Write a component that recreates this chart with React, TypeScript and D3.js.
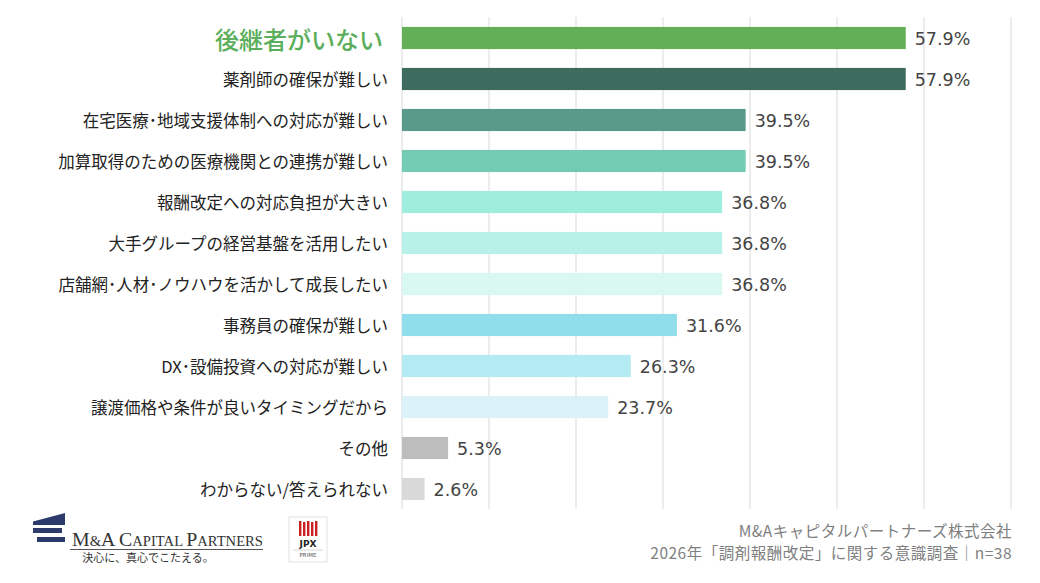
import * as d3 from 'd3';

// survey answers, top to bottom
const categories = [
  '後継者がいない',
  '薬剤師の確保が難しい',
  '在宅医療･地域支援体制への対応が難しい',
  '加算取得のための医療機関との連携が難しい',
  '報酬改定への対応負担が大きい',
  '大手グループの経営基盤を活用したい',
  '店舗網･人材･ノウハウを活かして成長したい',
  '事務員の確保が難しい',
  'DX･設備投資への対応が難しい',
  '譲渡価格や条件が良いタイミングだから',
  'その他',
  'わからない/答えられない',
];
const values = [57.9, 57.9, 39.5, 39.5, 36.8, 36.8, 36.8, 31.6, 26.3, 23.7, 5.3, 2.6];
const barColors = [
  '#63AF56', '#3D6B5D', '#589B8B', '#73CBB4', '#9FEDDD', '#B7F1E7',
  '#DAF8F2', '#90DDEB', '#B4EAF2', '#DBF3F8', '#BDBDBD', '#D9D9D9',
];
const gridTicks = [0, 10, 20, 30, 40, 50, 60, 70];

const WIDTH = 1040;
const HEIGHT = 583;
const JP = '"Noto Sans CJK JP", "Noto Sans", sans-serif';

const x = d3.scaleLinear().domain([0, 70]).range([402, 1011]);
const y = d3
  .scaleBand<string>()
  .domain(categories)
  .range([17.5, 509.5])
  .paddingInner(0.46)
  .paddingOuter(0.23);

const Logo = () => (
  <g>
    {/* roof mark */}
    <polygon points="33,525 33,521.5 65,513 65,525" fill="#2D3B6C" />
    <rect x={33} y={528} width={29} height={5} fill="#2D3B6C" />
    <rect x={37} y={537} width={28} height={5} fill="#2D3B6C" />
    <text
      x={72}
      y={546}
      fontFamily='"Liberation Serif", serif'
      fontSize={14}
      fill="#333"
      textLength={191}
      lengthAdjust="spacingAndGlyphs"
    >
      <tspan fontSize={19}>M</tspan>&amp;<tspan fontSize={19}>A</tspan> <tspan fontSize={19}>C</tspan>APITAL{' '}
      <tspan fontSize={19}>P</tspan>ARTNERS
    </text>
    <line x1={70} x2={263} y1={549.5} y2={549.5} stroke="#555" strokeWidth={1} />
    <text x={148} y={562} textAnchor="middle" fontFamily={JP} fontSize={11} fill="#333">
      決心に、真心でこたえる。
    </text>
    {/* listing badge */}
    <rect x={289} y={517} width={38} height={45} fill="#fff" stroke="#e2e2e2" />
    {[0, 1, 2, 3, 4].map((i) => (
      <rect key={i} x={299 + i * 4} y={521 + (i % 2)} width={2.4} height={15 - (i % 2)} fill="#C8201E" />
    ))}
    <text x={308} y={547} textAnchor="middle" fontFamily='"DejaVu Sans", sans-serif' fontWeight="bold" fontSize={9} fill="#222">
      JPX
    </text>
    <line x1={293} x2={323} y1={550} y2={550} stroke="#bbb" strokeWidth={0.6} />
    <text x={308} y={557} textAnchor="middle" fontFamily='"DejaVu Sans", sans-serif' fontSize={5.5} fill="#555">
      PRIME
    </text>
  </g>
);

export default function App() {
  return (
    <svg
      width={WIDTH}
      height={HEIGHT}
      style={{ position: 'absolute', left: 0, top: 0, background: '#fff' }}
    >
      <rect width={WIDTH} height={HEIGHT} fill="#fff" />
      {/* vertical gridlines */}
      {gridTicks.map((t) => (
        <line key={t} x1={x(t)} x2={x(t)} y1={17} y2={509} stroke="#D9D9D9" strokeWidth={1} />
      ))}
      {categories.map((c, i) => {
        const top = y(c) ?? 0;
        const cy = top + y.bandwidth() / 2;
        const first = i === 0;
        return (
          <g key={c}>
            <rect x={x(0)} y={top} width={x(values[i]) - x(0)} height={y.bandwidth()} fill={barColors[i]} />
            <text
              x={first ? 383 : 388}
              y={cy}
              textAnchor="end"
              dominantBaseline="central"
              fontFamily={JP}
              fontSize={first ? 24 : 16.5}
              fontWeight={first ? 500 : 400}
              fill={first ? '#5BAE5B' : '#222'}
            >
              {c}
            </text>
            <text
              x={x(values[i]) + 9}
              y={cy + 1}
              dominantBaseline="central"
              fontFamily='"DejaVu Sans", sans-serif'
              fontSize={17.5}
              fill="#444"
            >
              {values[i].toFixed(1)}%
            </text>
          </g>
        );
      })}
      <Logo />
      <text x={1012} y={536.5} textAnchor="end" fontFamily={JP} fontSize={15.5} letterSpacing={0.5} fill="#808080">
        M&amp;Aキャピタルパートナーズ株式会社
      </text>
      <text x={1012} y={559} textAnchor="end" fontFamily={JP} fontSize={15.5} letterSpacing={0.5} fill="#808080">
        2026年「調剤報酬改定」に関する意識調査｜n=38
      </text>
    </svg>
  );
}
